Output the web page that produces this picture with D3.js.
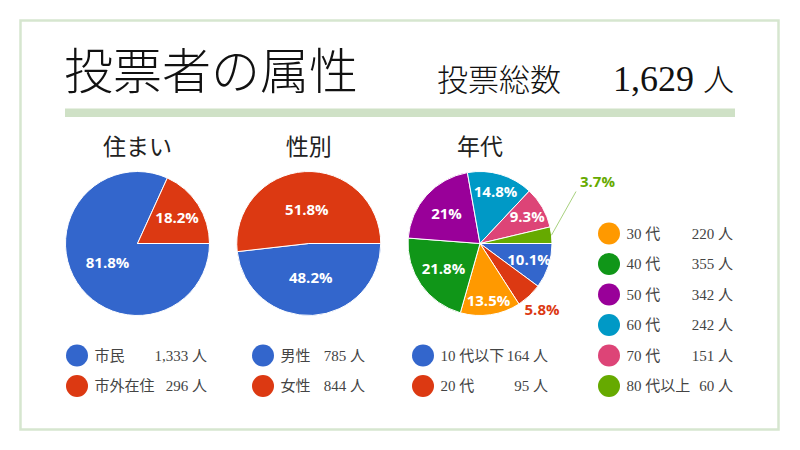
<!DOCTYPE html>
<html>
<head>
<meta charset="utf-8">
<script src="https://cdn.jsdelivr.net/npm/d3@7"></script>
<style>
    body { margin: 0; background: #fff; }
    .jp { font-family: 'Liberation Serif', 'Noto Sans CJK JP', serif; }
    .pct { font-family: 'Open Sans', sans-serif; font-weight: 700; font-size: 15px; }
</style>
</head>
<body>
<div id="chart"></div>
<script>
// values
var residenceNames = ["市民", "市外在住"];
var residenceCounts = [1333, 296];
var residenceShares = [81.8, 18.2];

var genderNames = ["男性", "女性"];
var genderCounts = [785, 844];
var genderShares = [48.2, 51.8];

var ageNames = ["10 代以下", "20 代", "30 代", "40 代", "50 代", "60 代", "70 代", "80 代以上"];
var ageCounts = [164, 95, 220, 355, 342, 242, 151, 60];
var ageShares = [10.1, 5.8, 13.5, 21.8, 21, 14.8, 9.3, 3.7];

var totalVoters = 1629;
var sliceColors = ["#3366cc", "#dc3912", "#ff9900", "#109618", "#990099", "#0099c6", "#dd4477", "#66aa00"];

var width = 800,
    height = 450,
    radius = 72,
    pieY = 243.5;

var svg = d3.select('#chart')
    .append('svg')
    .attr('width', width)
    .attr('height', height);

// frame, heading and green rule
svg.append('rect')
    .attr('x', 20.5).attr('y', 20.5)
    .attr('width', 758).attr('height', 409)
    .attr('fill', 'none')
    .attr('stroke', '#d6e6cf')
    .attr('stroke-width', 2.5);

svg.append('text')
    .attr('class', 'jp')
    .attr('x', 64).attr('y', 89)
    .attr('font-size', 49)
    .attr('font-weight', 300)
    .attr('fill', '#111')
    .text('投票者の属性');

svg.append('text')
    .attr('class', 'jp')
    .attr('x', 437).attr('y', 91)
    .attr('font-size', 31)
    .attr('font-weight', 300)
    .attr('fill', '#111')
    .text('投票総数');

var total = svg.append('text')
    .attr('class', 'jp')
    .attr('x', 734).attr('y', 91)
    .attr('text-anchor', 'end')
    .attr('fill', '#111');
total.append('tspan').attr('font-size', 36).text(d3.format(',')(totalVoters) + ' ');
total.append('tspan').attr('font-size', 31).attr('font-weight', 300).text('人');

svg.append('rect')
    .attr('x', 65).attr('y', 108.5)
    .attr('width', 670).attr('height', 8.5)
    .attr('fill', '#cfe1c6');

var charts = [
    { title: "住まい", names: residenceNames, counts: residenceCounts, shares: residenceShares,
      legend: [{ x: 77, valueEnd: 207, items: [0, 1], rows: [4, 5] }] },
    { title: "性別", names: genderNames, counts: genderCounts, shares: genderShares,
      legend: [{ x: 263, valueEnd: 365, items: [0, 1], rows: [4, 5] }] },
    { title: "年代", names: ageNames, counts: ageCounts, shares: ageShares,
      legend: [{ x: 423, valueEnd: 548, items: [0, 1], rows: [4, 5] },
               { x: 609, valueEnd: 733, items: [2, 3, 4, 5, 6, 7], rows: [0, 1, 2, 3, 4, 5] }] }
];

var pieX = d3.scalePoint()
    .domain(charts.map(function(c) { return c.title; }))
    .range([137.5, 480]);

var legendRows = d3.scalePoint()
    .domain(d3.range(6))
    .range([233.5, 386]);

var color = d3.scaleOrdinal().domain(d3.range(8)).range(sliceColors);

var pie = d3.pie()
    .sort(null)
    .startAngle(Math.PI / 2)
    .endAngle(Math.PI / 2 + Math.PI * 2);

var arc = d3.arc().innerRadius(0).outerRadius(radius);

// smallest gap between a label box centred at (x, y) and the slice edges
// (negative when a corner falls outside the slice)
function clearance(x, y, w, h, d) {
    var corners = [[x - w / 2, y - h / 2], [x + w / 2, y - h / 2], [x - w / 2, y + h / 2], [x + w / 2, y + h / 2]];
    return d3.min(corners, function(p) {
        var a = Math.atan2(p[0], -p[1]);
        while (a < d.startAngle) a += Math.PI * 2;
        if (a > d.endAngle) return -1;
        var gaps = [radius - Math.hypot(p[0], p[1])];
        [d.startAngle, d.endAngle].forEach(function(b) {
            var ux = Math.sin(b), uy = -Math.cos(b);
            var dot = p[0] * ux + p[1] * uy;
            gaps.push(dot > 0 ? Math.abs(p[0] * uy - p[1] * ux) : Math.hypot(p[0], p[1]));
        });
        return d3.min(gaps);
    });
}

charts.forEach(function(chart) {
    var cx = pieX(chart.title);
    var g = svg.append('g').attr('transform', 'translate(' + cx + ',' + pieY + ')');

    svg.append('text')
        .attr('class', 'jp')
        .attr('x', cx).attr('y', 155)
        .attr('text-anchor', 'middle')
        .attr('font-size', 23)
        .attr('fill', '#222')
        .text(chart.title);

    var slices = pie(chart.shares);

    g.selectAll('path')
        .data(slices)
        .enter()
        .append('path')
        .attr('d', arc)
        .attr('fill', function(d, i) { return color(i); })
        .attr('stroke', '#fff')
        .attr('stroke-width', 1);

    // legend column bounds, used to keep outside labels clear of it
    var sideLegend = chart.legend.filter(function(l) { return l.rows[0] === 0; })[0];

    slices.forEach(function(d, i) {
        var label = g.append('text')
            .attr('class', 'pct')
            .attr('text-anchor', 'middle')
            .attr('dy', '0.36em')
            .text(chart.shares[i] + '%');
        var w = label.node().getComputedTextLength(),
            h = 10,
            mid = (d.startAngle + d.endAngle) / 2,
            sx = Math.sin(mid),
            sy = -Math.cos(mid);

        // slide along the mid-angle and keep the spot with the most room
        var best = -Infinity, bestT = 0;
        for (var t = radius * 0.3; t < radius; t += 0.5) {
            var c = clearance(sx * t, sy * t, w * 0.82, 9, d);
            if (c > best) { best = c; bestT = t; }
        }
        if (best >= 0.5) {
            label.attr('x', sx * bestT).attr('y', sy * bestT).attr('fill', '#fff');
            return;
        }

        // too small: put the label outside the pie
        var ext = Math.abs(sx) * w / 2 + Math.abs(sy) * h / 2,
            ox = sx * (radius + 3 + ext),
            oy = sy * (radius + 3 + ext);
        label.attr('fill', color(i));
        if (sideLegend && cx + ox + w / 2 > sideLegend.x - 20) {
            var lx = radius + 28,
                ly = legendRows(0) - 52 - pieY;
            label.attr('x', lx + w / 2).attr('y', ly);
            g.insert('line', 'text')
                .attr('x1', sx * radius).attr('y1', sy * radius)
                .attr('x2', lx - 4).attr('y2', ly + 10)
                .attr('stroke', '#a8d17e')
                .attr('stroke-width', 1);
        } else {
            label.attr('x', ox).attr('y', oy);
        }
    });

    // legends
    chart.legend.forEach(function(l) {
        l.items.forEach(function(item, k) {
            var y = legendRows(l.rows[k]);
            svg.append('circle')
                .attr('cx', l.x).attr('cy', y)
                .attr('r', 11)
                .attr('fill', color(item));
            svg.append('text')
                .attr('class', 'jp')
                .attr('x', l.x + 17.5).attr('y', y)
                .attr('dy', '0.36em')
                .attr('font-size', 15)
                .attr('fill', '#444')
                .text(chart.names[item]);
            svg.append('text')
                .attr('class', 'jp')
                .attr('x', l.valueEnd).attr('y', y)
                .attr('dy', '0.36em')
                .attr('text-anchor', 'end')
                .attr('font-size', 15)
                .attr('fill', '#444')
                .text(d3.format(',')(chart.counts[item]) + ' 人');
        });
    });
});
</script>
</body>
</html>
